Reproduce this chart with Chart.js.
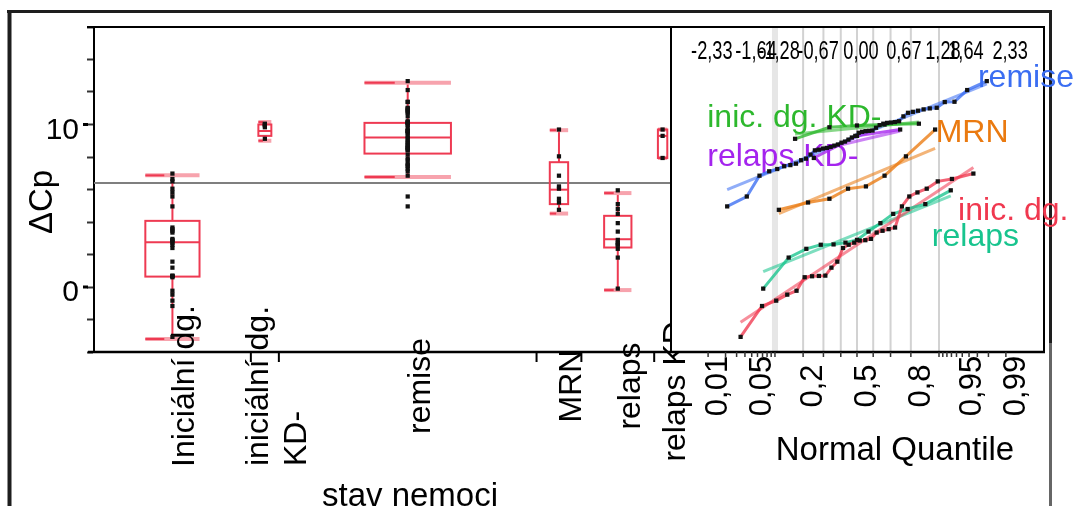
<!DOCTYPE html>
<html>
<head>
<meta charset="utf-8">
<script src="https://cdn.jsdelivr.net/npm/chart.js@4.4.1/dist/chart.umd.min.js"></script>
<style>
  html, body { margin: 0; padding: 0; background: #fff; }
</style>
</head>
<body>
<canvas id="chart" width="1078" height="506"></canvas>
<script>
// --- categories (stav nemoci)
const groups = ['Iniciální dg.', 'iniciální dg. KD-', 'remise', 'MRN', 'relaps', 'relaps KD-'];
const axisLabels = [['Iniciální dg.'], ['iniciální dg.', 'KD-'], ['remise'], ['MRN'], ['relaps'], ['relaps KD-']];
const quantLabels = ['inic. dg.', 'inic. dg. KD-', 'remise', 'MRN', 'relaps', 'relaps KD-'];

// --- ΔCp values, one array per group
const inicDg = [-3.07, -1.17, -0.84, -0.47, -0.23, 0.6, 0.66, 0.68, 0.7, 1.19, 1.56, 2.4, 2.6, 2.73,
  2.86, 2.88, 2.96, 3.35, 3.46, 3.56, 3.66, 4.96, 5.57, 5.82, 6.05, 6.5, 6.65, 6.98];
const inicDgKD = [9.12, 9.83, 9.94, 10.0, 10.05];
const remise = [4.96, 5.57, 6.85, 7.12, 7.26, 7.43, 7.5, 7.59, 7.8, 7.9, 8.15, 8.41, 8.45, 8.52, 8.56,
  8.62, 8.7, 8.77, 8.88, 8.95, 9.07, 9.2, 9.3, 9.49, 9.55, 9.59, 9.61, 9.63, 9.8, 9.96, 10.05, 10.1,
  10.12, 10.15, 10.2, 10.5, 10.72, 10.78, 10.85, 10.93, 10.99, 11.03, 11.38, 11.4, 12.12, 12.67];
const mrn = [4.75, 5.2, 5.43, 6.05, 6.19, 6.85, 8.04, 9.69];
const relaps = [-0.1, 1.81, 2.35, 2.6, 2.62, 2.73, 2.9, 3.41, 3.93, 4.5, 4.8, 5.1, 5.95];
const relapsKD = [7.94, 9.3, 9.69];

// --- box plot statistics as drawn
const boxLo  = [-3.2, 9.0, 6.77, 4.52, -0.19, 7.94];
const boxQ1  = [0.64, 9.3, 8.21, 5.1, 2.43, 7.94];
const boxMed = [2.76, 9.6, 9.2, 5.99, 2.94, 9.3];
const boxQ3  = [4.07, 10.0, 10.1, 7.68, 4.38, 9.69];
const boxHi  = [6.87, 10.15, 12.57, 9.65, 5.78, 9.69];
const grandMean = 6.4;

// --- tick labels
const yLabelled = [0, 10];
const zTicks = [-2.33, -1.64, -1.28, -0.67, 0, 0.67, 1.28, 1.64, 2.33];
const zTickLabels = ['-2,33', '-1,64', '-1,28', '-0,67', '0,00', '0,67', '1,28', '1,64', '2,33'];
const probTicks = [0.01, 0.05, 0.2, 0.5, 0.8, 0.95, 0.99];
const probTickLabels = ['0,01', '0,05', '0,2', '0,5', '0,8', '0,95', '0,99'];
const probGrid = [0.1, 0.2, 0.3, 0.4, 0.5, 0.6, 0.7, 0.8, 0.9];
const probMinor = [0.01, 0.02, 0.03, 0.04, 0.05, 0.06, 0.07, 0.08, 0.09, 0.91, 0.92, 0.93, 0.94, 0.95, 0.96, 0.97, 0.98, 0.99];

// --- styles / layout
const colors = ['#f0384f', '#2db82d', '#3b6ef2', '#ea7a10', '#18c48e', '#a424ee'];
const labelAt = [[1.58, 4.12], [-2.34, 9.85], [1.89, 12.28], [1.23, 8.92], [1.17, 2.52], [-2.34, 7.45]];
const BOX_RED = '#ee3a52', BOX_PINK = '#f7a3ad';
const FONT = '"Liberation Sans", Arial, sans-serif';
const splitFrac = (671 - 94) / (1044 - 94);
const qMin = -2.906, qMax = 2.922;

const series = [inicDg, inicDgKD, remise, mrn, relaps, relapsKD];
const counts = series.map(s => s.length);
const starts = [];
let total = 0;
counts.forEach(n => { starts.push(total); total += n; });
const centers = counts.map((n, i) => starts[i] + n / 2);

// inverse normal cdf (Acklam)
function qnorm(p) {
  const a = [-39.69683028665376, 220.9460984245205, -275.9285104469687, 138.3577518672690, -30.66479806614716, 2.506628277459239];
  const b = [-54.47609879822406, 161.5858368580409, -155.6989798598866, 66.80131188771972, -13.28068155288572];
  const c = [-0.007784894002430293, -0.3223964580411365, -2.400758277161838, -2.549732539343734, 4.374664141464968, 2.938163982698783];
  const d = [0.007784695709041462, 0.3224671290700398, 2.445134137142996, 3.754408661907416];
  const pl = 0.02425;
  let q, r;
  if (p < pl) {
    q = Math.sqrt(-2 * Math.log(p));
    return (((((c[0]*q+c[1])*q+c[2])*q+c[3])*q+c[4])*q+c[5]) / ((((d[0]*q+d[1])*q+d[2])*q+d[3])*q+1);
  }
  if (p > 1 - pl) {
    q = Math.sqrt(-2 * Math.log(1 - p));
    return -(((((c[0]*q+c[1])*q+c[2])*q+c[3])*q+c[4])*q+c[5]) / ((((d[0]*q+d[1])*q+d[2])*q+d[3])*q+1);
  }
  q = p - 0.5; r = q * q;
  return (((((a[0]*r+a[1])*r+a[2])*r+a[3])*r+a[4])*r+a[5])*q / (((((b[0]*r+b[1])*r+b[2])*r+b[3])*r+b[4])*r+1);
}

// --- datasets
const datasets = [];
datasets.push({
  xAxisID: 'xb', order: 0,
  data: series.flatMap((s, i) => s.map(v => ({ x: centers[i], y: v }))),
  pointStyle: 'rect', pointRadius: 3, backgroundColor: '#111', borderWidth: 0
});
series.forEach((s, i) => {
  const sorted = [...s].sort((a, b) => a - b);
  const n = sorted.length;
  const pts = sorted.map((v, k) => ({ x: qnorm((k + 1) / (n + 1)), y: v }));
  const mean = sorted.reduce((a, b) => a + b, 0) / n;
  const sd = Math.sqrt(sorted.reduce((a, b) => a + (b - mean) * (b - mean), 0) / (n - 1));
  datasets.push({
    xAxisID: 'xq', order: 1, data: pts, showLine: false,
    pointStyle: 'rect', pointRadius: 3, backgroundColor: '#111', borderWidth: 0
  });
  datasets.push({
    xAxisID: 'xq', order: 2, data: pts, showLine: true,
    borderColor: colors[i] + 'c8', borderWidth: 3, pointRadius: 0
  });
  datasets.push({
    xAxisID: 'xq', order: 3, showLine: true, pointRadius: 0,
    data: [pts[0], pts[n - 1]].map(p => ({ x: p.x, y: mean + sd * p.x })),
    borderColor: colors[i] + '90', borderWidth: 3
  });
});

function seg(ctx, x1, y1, x2, y2) {
  ctx.beginPath(); ctx.moveTo(x1, y1); ctx.lineTo(x2, y2); ctx.stroke();
}

const jmpLayers = {
  id: 'jmpLayers',
  beforeDatasetsDraw(chart) {
    const { ctx, chartArea: a, scales: { xb, xq, y } } = chart;
    const splitX = xb.getPixelForValue(total);
    ctx.save();
    ctx.lineCap = 'butt';

    // grand mean
    ctx.strokeStyle = '#7f7f7f'; ctx.lineWidth = 2;
    seg(ctx, a.left, y.getPixelForValue(grandMean), splitX, y.getPixelForValue(grandMean));

    // boxes
    series.forEach((s, i) => {
      const cx = xb.getPixelForValue(centers[i]);
      const span = xb.getPixelForValue(counts[i]) - xb.getPixelForValue(0);
      const w = span * 0.32 + 4;
      const x0 = cx - w / 2, x1 = cx + w / 2;
      const pLo = y.getPixelForValue(boxLo[i]), pHi = y.getPixelForValue(boxHi[i]);
      const pQ1 = y.getPixelForValue(boxQ1[i]), pQ3 = y.getPixelForValue(boxQ3[i]);
      const pMed = y.getPixelForValue(boxMed[i]);
      ctx.strokeStyle = BOX_RED; ctx.lineWidth = 2;
      seg(ctx, cx, pQ3, cx, pHi); seg(ctx, cx, pQ1, cx, pLo);
      ctx.strokeStyle = BOX_PINK; ctx.lineWidth = 4;
      seg(ctx, x0, pHi, x1, pHi); seg(ctx, x0, pLo, x1, pLo);
      ctx.strokeStyle = BOX_RED; ctx.lineWidth = 2;
      seg(ctx, x0, pHi, x0 + w * 0.35, pHi); seg(ctx, x0, pLo, x0 + w * 0.35, pLo);
      ctx.strokeRect(x0, pQ3, w, pQ1 - pQ3);
      seg(ctx, x0, pMed, x1, pMed);
    });

    // category labels (rotated)
    ctx.fillStyle = '#000';
    ctx.font = '32px ' + FONT;
    axisLabels.forEach((lines, i) => {
      const cx = xb.getPixelForValue(centers[i]);
      const blockW = Math.max(...lines.map(t => ctx.measureText(t).width));
      lines.forEach((t, j) => {
        const bx = cx + 22 + (j - (lines.length - 1) / 2) * 38;
        ctx.save();
        ctx.translate(bx, 386);
        ctx.rotate(-Math.PI / 2);
        ctx.textAlign = 'left'; ctx.textBaseline = 'alphabetic';
        ctx.fillText(t, -blockW / 2, 0);
        ctx.restore();
      });
    });

    // y axis title
    ctx.save();
    ctx.translate(52, 202);
    ctx.rotate(-Math.PI / 2);
    ctx.font = '33px ' + FONT;
    ctx.textAlign = 'center'; ctx.textBaseline = 'alphabetic';
    ctx.fillText('ΔCp', 0, 0);
    ctx.restore();

    // quantile panel
    ctx.fillStyle = '#fff';
    ctx.fillRect(splitX, a.top, a.right - splitX, a.bottom - a.top);
    probGrid.forEach((p, k) => {
      const x = xq.getPixelForValue(qnorm(p));
      ctx.strokeStyle = k === 0 ? '#e6e6e6' : '#d2d2d2';
      ctx.lineWidth = k === 0 ? 6 : 2;
      seg(ctx, x, a.top, x, a.bottom);
    });

    // frames
    ctx.strokeStyle = '#000'; ctx.lineWidth = 2;
    seg(ctx, a.left - 7, a.top, a.right + 1, a.top);
    ctx.lineWidth = 2.5;
    seg(ctx, a.left - 6, a.bottom, a.right + 1, a.bottom);
    ctx.lineWidth = 2;
    seg(ctx, splitX, a.top, splitX, a.bottom);
    seg(ctx, a.right, a.top, a.right, a.bottom);
    yLabelled.forEach(v => {
      ctx.lineWidth = 3;
      seg(ctx, a.left - 11, y.getPixelForValue(v), a.left - 6, y.getPixelForValue(v));
    });
    ctx.lineWidth = 2;
    starts.slice(1).forEach(st => {
      const x = xb.getPixelForValue(st);
      seg(ctx, x, a.bottom, x, a.bottom + 10);
    });
    probMinor.concat(probGrid).forEach(p => {
      const x = xq.getPixelForValue(qnorm(p));
      ctx.strokeStyle = '#333'; ctx.lineWidth = 1.5;
      seg(ctx, x, a.bottom, x, a.bottom + 5);
    });

    // outer frame
    ctx.strokeStyle = '#1e1e1e';
    ctx.lineWidth = 3; seg(ctx, 7, 11.5, 1052, 11.5);
    ctx.lineWidth = 4; seg(ctx, 9.5, 10, 9.5, 506);
    ctx.lineWidth = 3; seg(ctx, 1050.5, 10, 1050.5, 343);
    ctx.strokeStyle = '#666'; seg(ctx, 1050.5, 343, 1050.5, 506);

    // top z labels
    ctx.fillStyle = '#000';
    ctx.font = '26px ' + FONT;
    zTicks.forEach((z, k) => {
      ctx.save();
      ctx.translate(xq.getPixelForValue(z) + 4, 59);
      ctx.scale(0.7, 1);
      ctx.textAlign = 'center'; ctx.textBaseline = 'alphabetic';
      ctx.fillText(zTickLabels[k], 0, 0);
      ctx.restore();
    });

    // group labels in quantile plot
    ctx.font = '32px ' + FONT;
    ctx.textAlign = 'left'; ctx.textBaseline = 'alphabetic';
    quantLabels.forEach((t, i) => {
      ctx.fillStyle = colors[i];
      ctx.fillText(t, xq.getPixelForValue(labelAt[i][0]), y.getPixelForValue(labelAt[i][1]));
    });
    ctx.restore();
  },
  afterDraw(chart) {
    const { ctx, scales: { xq } } = chart;
    ctx.save();
    ctx.fillStyle = '#000';
    ctx.font = '31px ' + FONT;
    probTicks.forEach((p, k) => {
      ctx.save();
      ctx.translate(xq.getPixelForValue(qnorm(p)) + 19, 386);
      ctx.rotate(-Math.PI / 2);
      ctx.textAlign = 'center'; ctx.textBaseline = 'alphabetic';
      ctx.fillText(probTickLabels[k], 0, 0);
      ctx.restore();
    });
    ctx.font = '33px ' + FONT;
    ctx.textAlign = 'center'; ctx.textBaseline = 'alphabetic';
    ctx.fillText('Normal Quantile', 895, 460);
    ctx.fillText('stav nemoci', 410, 506);
    ctx.restore();
  }
};

new Chart(document.getElementById('chart'), {
  type: 'scatter',
  data: { datasets },
  options: {
    responsive: false,
    animation: false,
    events: [],
    layout: { padding: { left: 0, top: 27, right: 34, bottom: 154 } },
    plugins: { legend: { display: false }, tooltip: { enabled: false } },
    scales: {
      xb: { type: 'linear', axis: 'x', display: false, min: 0, max: total / splitFrac },
      xq: { type: 'linear', axis: 'x', display: false,
            min: qMin - (qMax - qMin) * splitFrac / (1 - splitFrac), max: qMax },
      y: {
        type: 'linear', position: 'left', min: -4, max: 16,
        afterFit(scale) { scale.width = 94; },
        ticks: {
          stepSize: 2, autoSkip: false, color: '#000', padding: 8, labelOffset: 6,
          font: { size: 30, family: FONT },
          callback: v => (yLabelled.includes(v) ? String(v) : '')
        },
        grid: { drawOnChartArea: false, tickLength: 7, tickWidth: 2, tickColor: '#333' },
        border: { display: true, color: '#000', width: 2 },
        title: { display: false }
      }
    }
  },
  plugins: [jmpLayers]
});
</script>
</body>
</html>
